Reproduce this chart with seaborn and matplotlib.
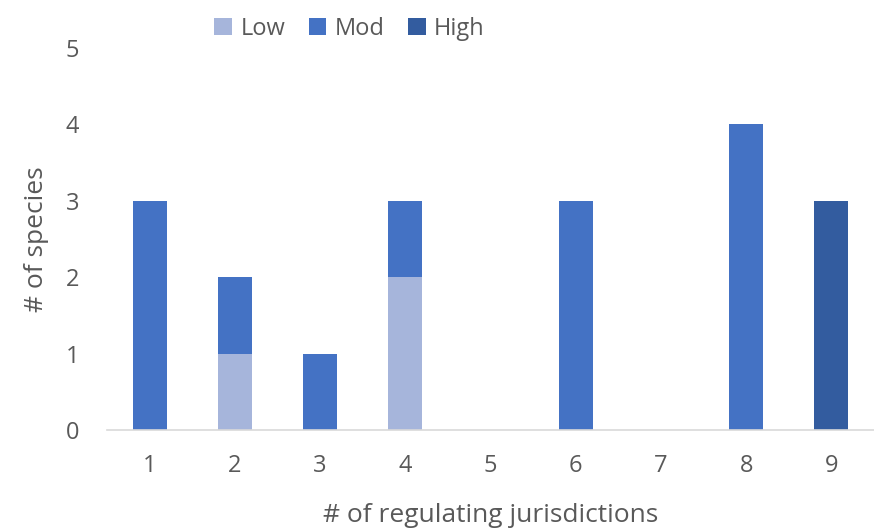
import matplotlib
matplotlib.use("Agg")
import matplotlib.pyplot as plt
import seaborn as sns
import numpy as np
import pandas as pd
from matplotlib.patches import Patch

jurisdictions = ["1", "2", "3", "4", "5", "6", "7", "8", "9"]
low = [0, 1, 0, 2, 0, 0, 0, 0, 0]
mod = [3, 1, 1, 1, 0, 3, 0, 4, 0]
high = [0, 0, 0, 0, 0, 0, 0, 0, 3]
series_names = ["Low", "Mod", "High"]
colors = ["#A6B5DB", "#4472C4", "#335C9F"]

sns.set_theme(style="white")
plt.rcParams["font.family"] = ["Open Sans", "DejaVu Sans"]

text_color = "#595959"

fig = plt.figure(figsize=(8.74, 5.32), dpi=100)
ax = fig.add_axes([0.1224, 0.1917, 0.8776, 0.7181])

df = pd.DataFrame({"j": jurisdictions, "Low": low, "Mod": mod, "High": high})
bottom = np.zeros(len(jurisdictions))
for name, col in zip(series_names, colors):
    vals = np.array(df[name], dtype=float)
    sns.barplot(x=df["j"], y=vals, bottom=bottom, color=col, width=0.4,
                order=jurisdictions, ax=ax, saturation=1, linewidth=0)
    bottom = bottom + vals

ax.set_xlim(-0.5, 8.5)
ax.set_ylim(0, 5)
ax.set_yticks(range(0, 6))
for s in ["top", "right", "left"]:
    ax.spines[s].set_visible(False)
ax.spines["bottom"].set_color("#D9D9D9")
ax.spines["bottom"].set_linewidth(1.2)
ax.tick_params(axis="both", length=0, labelsize=17, colors=text_color)
ax.tick_params(axis="x", pad=17)
ax.tick_params(axis="y", pad=20)
ax.set_xlabel("# of regulating jurisdictions", fontsize=19, color=text_color, labelpad=18)
ax.set_ylabel("# of species", fontsize=19, color=text_color, labelpad=12)

handles = [Patch(facecolor=c, edgecolor="none") for c in colors]
fig.legend(handles, series_names, loc="center", bbox_to_anchor=(0.40, 0.946),
           ncol=3, frameon=False, fontsize=17, labelcolor=text_color,
           handlelength=0.75, handleheight=0.75, handletextpad=0.35, columnspacing=1.0)

fig.savefig("out.png", dpi=100)
